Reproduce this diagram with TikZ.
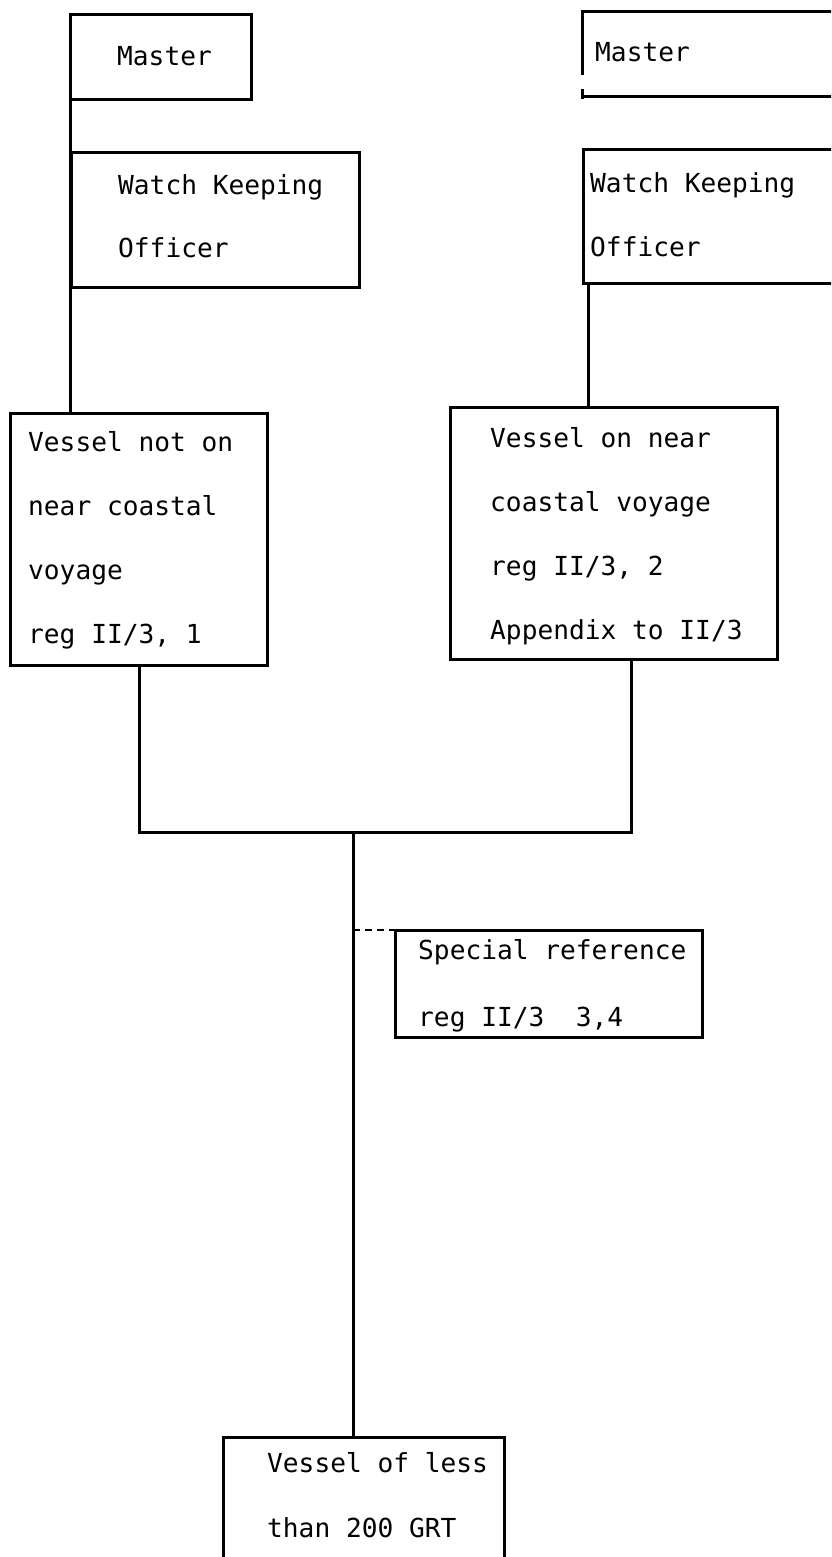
\documentclass[tikz,border=0pt]{standalone}
\usepackage{fontspec}
\setmonofont{DejaVu Sans Mono}
\begin{document}
\begin{tikzpicture}[x=1pt,y=-1pt,
  box/.style={draw, line width=3pt, inner sep=0pt, outer sep=0pt, anchor=north west},
  openbox/.style={inner sep=0pt, outer sep=0pt, anchor=north west},
  lbl/.style={font=\ttfamily\fontsize{26.2}{#1}\selectfont, align=left, anchor=base west, inner sep=0pt},
  lbl/.default=64,
  link/.style={line width=3pt},
  dlink/.style={line width=2.4pt, dash pattern=on 7pt off 5pt}]
\clip (0,0) rectangle (831,1557);
\fill[white] (0,0) rectangle (831,1557);

% left column
\node[box, minimum width=181pt, minimum height=85pt] (masterL) at (70,15) {};
\node[lbl] (masterLt) at (117,66) {Master};
\node[box, minimum width=288pt, minimum height=134pt] (wkoL) at (71,153) {};
\node[lbl=63] (wkoLt) at (118,257) {Watch Keeping\\Officer};
\node[box, minimum width=257pt, minimum height=252pt] (vnot) at (10,413) {};
\node[lbl] (vnott) at (28,643) {Vessel not on\\near coastal\\voyage\\reg II/3, 1};

% right column
\node[openbox, minimum width=270pt, minimum height=85pt] (masterR) at (582,12) {};
\node[lbl] (masterRt) at (595,62) {Master};
\draw[link] (masterR.north east) -- (masterR.north west) -- ([yshift=-63pt]masterR.north west);
\draw[link] ([yshift=8pt]masterR.south west) -- ([yshift=-2pt]masterR.south west);
\draw[link] (masterR.south west) -- (masterR.south east);
\node[box, minimum width=270pt, minimum height=133pt] (wkoR) at (583,150) {};
\node[lbl] (wkoRt) at (590,256) {Watch Keeping\\Officer};
\node[box, minimum width=327pt, minimum height=252pt] (vnear) at (450,407) {};
\node[lbl] (vneart) at (490,639) {Vessel on near\\coastal voyage\\reg II/3, 2\\Appendix to II/3};

% special reference
\node[box, minimum width=307pt, minimum height=107pt] (spec) at (395,930) {};
\node[lbl=67] (spect) at (418,1026) {Special reference\\reg II/3\ \ 3,4};

% bottom
\node[box, minimum width=281pt, minimum height=150pt] (bottom) at (223,1437) {};
\node[lbl=65] (bottomt) at (267,1537) {Vessel of less\\than 200 GRT};

% connectors
\draw[link] ([yshift=2pt]masterL.north west) -- (masterL.north west |- vnot.north);
\draw[link] ([xshift=5pt]wkoR.south west) -- ([xshift=5pt]wkoR.south west |- vnear.north);
\coordinate (jn) at (353,832);
\draw[link] ([xshift=129pt]vnot.south west) |- (jn);
\draw[link] ([xshift=181pt]vnear.south west) |- (jn);
\draw[link] (jn) -- (jn |- bottom.north);
\draw[dlink] (jn |- spec.north west) -- (spec.north west);
\end{tikzpicture}
\end{document}
